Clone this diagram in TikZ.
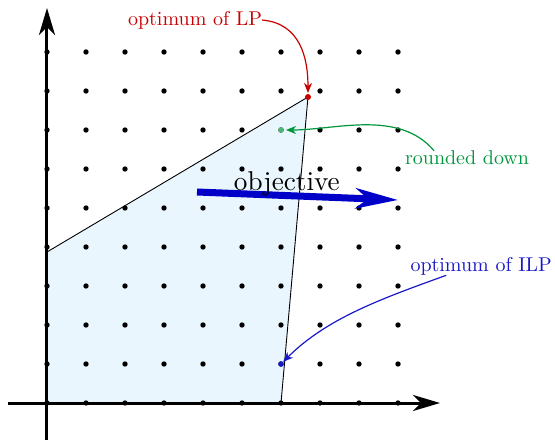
\documentclass[tikz,border=0pt]{standalone}
\usepackage{graphicx}
\usetikzlibrary{arrows.meta,calc}
\definecolor{lpred}{RGB}{200,0,0}
\definecolor{rdgreen}{RGB}{0,150,60}
\definecolor{ilpblue}{RGB}{25,25,200}
\definecolor{objblue}{RGB}{0,0,200}
\definecolor{regionfill}{RGB}{234,246,253}
\begin{document}
\begin{tikzpicture}[x=39pt,y=39pt,
  axisline/.style={line width=3pt,-{Stealth[length=27pt,width=16pt,inset=8pt]}},
  gdot/.style={fill=black},
  lbl/.style={inner sep=0pt},
  pointer/.style={line width=1.2pt,-{Stealth[length=10pt,width=8pt,inset=3pt]}}]
\useasboundingbox (-1.2051,-0.9744) rectangle (13.0256,10.3333);
% feasible region
\filldraw[fill=regionfill,draw=black,line width=0.9pt]
  (0,0) -- (6,0) -- (6.692,7.846) -- (0,3.872) -- cycle;
% axes
\draw[axisline] (-1.0,0) -- (10.077,0);
\draw[axisline] (0,-0.949) -- (0,10.128);
% lattice points
\foreach \i in {0,...,9}{
  \foreach \j in {0,...,9}{
    \fill[gdot] (\i,\j) circle (2.7pt);
  }
}
% special points
\coordinate (lp) at (6.692,7.846);
\coordinate (rd) at (6,7);
\coordinate (ilp) at (6,1);
\fill[lpred] (lp) circle (3pt);
\fill[rdgreen!70!white] (rd) circle (2.8pt);
\fill[ilpblue] (ilp) circle (2.8pt);
% objective
\coordinate (objA) at (3.846,5.41);
\coordinate (objB) at (9.0,5.205);
\draw[objblue,line width=7pt,-{Stealth[length=42pt,width=20pt,inset=12pt]}] (objA) -- (objB);
\node[inner sep=0pt,anchor=base] (objlabel) at (6.15,5.44) {\scalebox{2.72}{objective}};
% labels
\node[lbl,text=lpred] (lplabel) at (3.795,9.82) {\scalebox{2}{optimum of LP}};
\node[lbl,text=rdgreen] (rdlabel) at (10.77,6.28) {\scalebox{2}{rounded down}};
\node[lbl,text=ilpblue] (ilplabel) at (11.13,3.51) {\scalebox{2}{optimum of ILP}};
% pointers
\draw[pointer,lpred,shorten >=4pt] (lplabel.east) to[out=-5,in=90,looseness=1.1] (lp);
\draw[pointer,rdgreen,shorten >=5pt] ($(rdlabel.north west)+(0.75,0)$) to[out=130,in=0,looseness=0.9] (rd);
\draw[pointer,ilpblue,shorten >=3pt] ($(ilplabel.south west)+(0.92,0)$) to[out=200,in=45,looseness=0.9] (ilp);
\end{tikzpicture}
\end{document}
